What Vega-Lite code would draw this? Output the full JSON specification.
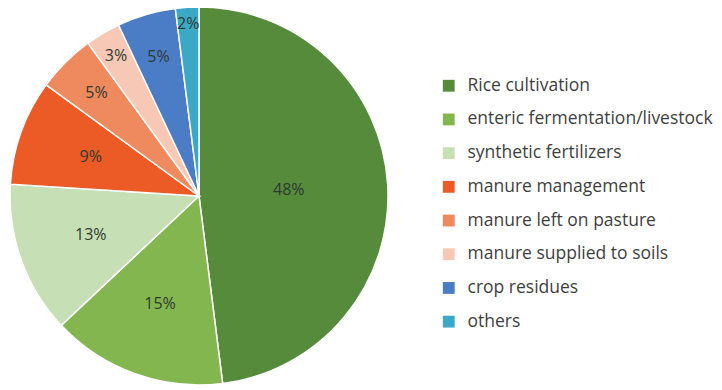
{
  "$schema": "https://vega.github.io/schema/vega-lite/v6.json",
  "autosize": {"type": "none"},
  "width": 398,
  "height": 392,
  "padding": {"left": 0, "top": 0, "right": 324, "bottom": 0},
  "background": "#ffffff",
  "config": {"view": {"stroke": null}, "font": "Open Sans"},
  "data": {
    "values": [
      {"rank": 1, "source": "Rice cultivation", "pct": 48},
      {"rank": 2, "source": "enteric fermentation/livestock", "pct": 15},
      {"rank": 3, "source": "synthetic fertilizers", "pct": 13},
      {"rank": 4, "source": "manure management", "pct": 9},
      {"rank": 5, "source": "manure left on pasture", "pct": 5},
      {"rank": 6, "source": "manure supplied to soils", "pct": 3},
      {"rank": 7, "source": "crop residues", "pct": 5},
      {"rank": 8, "source": "others", "pct": 2}
    ]
  },
  "encoding": {
    "theta": {"field": "pct", "type": "quantitative", "stack": true},
    "order": {"field": "rank", "type": "quantitative"},
    "color": {
      "field": "source",
      "type": "nominal",
      "sort": null,
      "scale": {
        "domain": ["Rice cultivation", "enteric fermentation/livestock", "synthetic fertilizers", "manure management", "manure left on pasture", "manure supplied to soils", "crop residues", "others"],
        "range": ["#558b3b", "#84b64f", "#c6dfb5", "#ec5a25", "#ef8a5e", "#f7c8b6", "#4b7dc6", "#3ba8c6"]
      },
      "legend": {
        "title": null,
        "orient": "none",
        "legendX": 440,
        "legendY": 77,
        "symbolType": "square",
        "symbolSize": 140,
        "symbolStrokeWidth": 0,
        "rowPadding": 14.7,
        "labelFont": "Open Sans",
        "labelFontSize": 17.5,
        "labelColor": "#3f3f3f",
        "labelOffset": 10,
        "labelLimit": 300
      }
    }
  },
  "layer": [
    {
      "mark": {"type": "arc", "outerRadius": 189, "stroke": "#ffffff", "strokeWidth": 1.5}
    },
    {
      "mark": {
        "type": "text",
        "radius": {"expr": "datum.pct > 40 ? 90 : datum.pct >= 9 ? 115 : 190 - 9 * datum.pct"},
        "text": {"expr": "datum.pct + '%'"},
        "font": "Open Sans",
        "fontSize": 16,
        "fill": "#2f3a2f"
      },
      "encoding": {
        "color": {"value": "#2f3a2f"}
      }
    }
  ]
}
